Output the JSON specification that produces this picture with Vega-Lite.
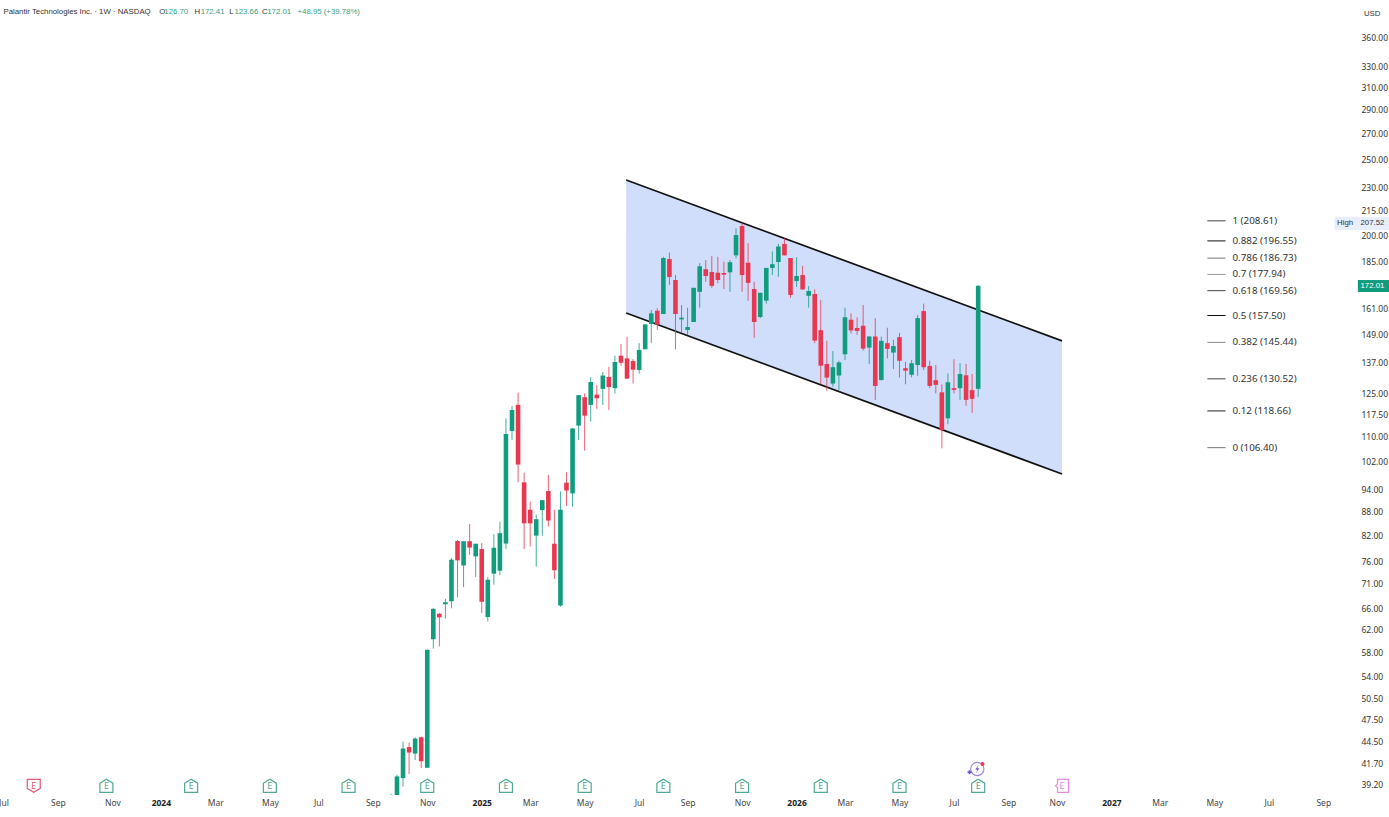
{
  "$schema": "https://vega.github.io/schema/vega-lite/v6.json",
  "width": 1389,
  "height": 795,
  "autosize": "none",
  "padding": {"left": 0, "top": 0, "right": 0, "bottom": 22},
  "background": "white",
  "config": {"view": {"stroke": null}, "font": "Noto Sans"},
  "datasets": {
    "candles": [
      {"date":"2024-09-23","open":36,"high":38.1,"low":35,"close":37},
      {"date":"2024-09-30","open":37,"high":40.3,"low":36.5,"close":40.1},
      {"date":"2024-10-07","open":39.9,"high":44.47,"low":38.9,"close":43.57},
      {"date":"2024-10-14","open":43.75,"high":44.35,"low":40.4,"close":43.05},
      {"date":"2024-10-21","open":42.92,"high":45.05,"low":42.1,"close":44.87},
      {"date":"2024-10-28","open":45.05,"high":45.13,"low":41.1,"close":41.95},
      {"date":"2024-11-04","open":41.15,"high":58.4,"low":41.15,"close":58.4},
      {"date":"2024-11-11","open":60.25,"high":66.1,"low":58.6,"close":65.94},
      {"date":"2024-11-18","open":65,"high":65.1,"low":59,"close":64.3},
      {"date":"2024-11-25","open":66.85,"high":67.95,"low":64.05,"close":67.25},
      {"date":"2024-12-02","open":67.45,"high":76.7,"low":66.05,"close":76.3},
      {"date":"2024-12-09","open":80.65,"high":80.9,"low":68.2,"close":76.15},
      {"date":"2024-12-16","open":75,"high":80.6,"low":70.35,"close":80.6},
      {"date":"2024-12-23","open":80.6,"high":84.8,"low":77.4,"close":79.1},
      {"date":"2024-12-30","open":77.05,"high":80,"low":72.45,"close":80},
      {"date":"2025-01-06","open":78.75,"high":80.15,"low":65.15,"close":67.35},
      {"date":"2025-01-13","open":64.35,"high":72.45,"low":63.55,"close":71.9},
      {"date":"2025-01-20","open":73.2,"high":82.3,"low":70.85,"close":79.05},
      {"date":"2025-01-27","open":73.85,"high":85.4,"low":72.85,"close":82.55},
      {"date":"2025-02-03","open":80.05,"high":116.1,"low":78.75,"close":110.8},
      {"date":"2025-02-10","open":111.8,"high":120.4,"low":108.9,"close":119},
      {"date":"2025-02-17","open":120.8,"high":125.3,"low":96,"close":101.2},
      {"date":"2025-02-24","open":96,"high":98.8,"low":78.75,"close":85},
      {"date":"2025-03-03","open":88.5,"high":90.65,"low":79.35,"close":85},
      {"date":"2025-03-10","open":81.95,"high":87.2,"low":74.75,"close":86.05},
      {"date":"2025-03-17","open":88.4,"high":91.05,"low":81.9,"close":91.05},
      {"date":"2025-03-24","open":93.55,"high":98.15,"low":84.2,"close":85.7},
      {"date":"2025-03-31","open":80,"high":88.5,"low":72.05,"close":73.95},
      {"date":"2025-04-07","open":66.6,"high":93.45,"low":66.35,"close":88.5},
      {"date":"2025-04-14","open":95.9,"high":98.9,"low":89.5,"close":93.7},
      {"date":"2025-04-21","open":92.9,"high":112.65,"low":89.3,"close":112.65},
      {"date":"2025-04-28","open":113.6,"high":124.35,"low":108.9,"close":124.35},
      {"date":"2025-05-05","open":123.6,"high":125,"low":105.5,"close":117},
      {"date":"2025-05-12","open":120.8,"high":131.2,"low":115,"close":129.3},
      {"date":"2025-05-19","open":124.55,"high":128.2,"low":119.4,"close":123.2},
      {"date":"2025-05-26","open":126.7,"high":133.2,"low":120.8,"close":131.8},
      {"date":"2025-06-02","open":131.25,"high":135.3,"low":119,"close":127.4},
      {"date":"2025-06-09","open":126.95,"high":139.8,"low":124.9,"close":137.2},
      {"date":"2025-06-16","open":139.8,"high":144.8,"low":135.7,"close":136.9},
      {"date":"2025-06-23","open":138.7,"high":147.9,"low":130.5,"close":130.6},
      {"date":"2025-06-30","open":137.6,"high":138.4,"low":128.7,"close":134.1},
      {"date":"2025-07-07","open":134,"high":145.1,"low":132.5,"close":142.2},
      {"date":"2025-07-14","open":142.5,"high":153.4,"low":142.4,"close":153.4},
      {"date":"2025-07-21","open":153.6,"high":160.1,"low":145.1,"close":158.5},
      {"date":"2025-07-28","open":159.75,"high":160.9,"low":150.9,"close":153.25},
      {"date":"2025-08-04","open":158.2,"high":187.5,"low":158.2,"close":186.8},
      {"date":"2025-08-11","open":186.25,"high":189.9,"low":172.5,"close":176.6},
      {"date":"2025-08-18","open":175,"high":177.6,"low":142.5,"close":158.2},
      {"date":"2025-08-25","open":155.7,"high":162.5,"low":149.7,"close":156.5},
      {"date":"2025-09-01","open":150.9,"high":161.2,"low":148.7,"close":152.2},
      {"date":"2025-09-08","open":154.5,"high":171,"low":154.5,"close":171},
      {"date":"2025-09-15","open":169,"high":184,"low":161.2,"close":182.3},
      {"date":"2025-09-22","open":180.7,"high":185.7,"low":174.1,"close":177.1},
      {"date":"2025-09-29","open":179.2,"high":187.9,"low":171,"close":172},
      {"date":"2025-10-06","open":178.85,"high":187.5,"low":173.3,"close":175},
      {"date":"2025-10-13","open":178.7,"high":184.8,"low":170.4,"close":177.8},
      {"date":"2025-10-20","open":179.05,"high":185.7,"low":169,"close":184.5},
      {"date":"2025-10-27","open":188.3,"high":204,"low":186.6,"close":200},
      {"date":"2025-11-03","open":205.4,"high":207.52,"low":169,"close":177.6},
      {"date":"2025-11-10","open":184.2,"high":195.2,"low":164.6,"close":173.5},
      {"date":"2025-11-17","open":170.4,"high":174.1,"low":147.4,"close":154.5},
      {"date":"2025-11-24","open":156.8,"high":168.5,"low":156.2,"close":168.5},
      {"date":"2025-12-01","open":164.6,"high":181.4,"low":163.2,"close":181.4},
      {"date":"2025-12-08","open":181.4,"high":190.5,"low":177.6,"close":183.4},
      {"date":"2025-12-15","open":184.6,"high":194.8,"low":176.7,"close":193.3},
      {"date":"2025-12-22","open":194.8,"high":198.1,"low":188.3,"close":188.3},
      {"date":"2025-12-29","open":186.8,"high":186.8,"low":166,"close":167.4},
      {"date":"2026-01-05","open":174.5,"high":187.2,"low":171.5,"close":177.1},
      {"date":"2026-01-12","open":177.6,"high":182.5,"low":169.9,"close":170.2},
      {"date":"2026-01-19","open":167,"high":171.9,"low":161.2,"close":169.4},
      {"date":"2026-01-26","open":167.9,"high":170.2,"low":145.1,"close":146.2},
      {"date":"2026-02-02","open":150.8,"high":164.9,"low":128.4,"close":135.7},
      {"date":"2026-02-09","open":136.4,"high":146.1,"low":126,"close":131},
      {"date":"2026-02-16","open":128.7,"high":141.7,"low":127.5,"close":135.1},
      {"date":"2026-02-23","open":131.8,"high":137.7,"low":126.3,"close":137.05},
      {"date":"2026-03-02","open":140.4,"high":161.2,"low":138,"close":156.7},
      {"date":"2026-03-09","open":155.55,"high":158.5,"low":149.3,"close":150.7},
      {"date":"2026-03-16","open":151.8,"high":156.7,"low":148.7,"close":150.45},
      {"date":"2026-03-23","open":152.8,"high":162.5,"low":141.9,"close":142.75},
      {"date":"2026-03-30","open":143.2,"high":148,"low":136.4,"close":148},
      {"date":"2026-04-06","open":148,"high":156.2,"low":122.6,"close":127.8},
      {"date":"2026-04-13","open":130.1,"high":147.9,"low":129.8,"close":146.1},
      {"date":"2026-04-20","open":145.1,"high":151.9,"low":138.7,"close":142.65},
      {"date":"2026-04-27","open":141.1,"high":146.5,"low":134.4,"close":143.85},
      {"date":"2026-05-04","open":147.7,"high":149.6,"low":131,"close":137.7},
      {"date":"2026-05-11","open":134.7,"high":137.3,"low":128.4,"close":133.7},
      {"date":"2026-05-18","open":132.1,"high":138,"low":131.1,"close":136.7},
      {"date":"2026-05-25","open":136,"high":157.7,"low":131.7,"close":156.3},
      {"date":"2026-06-01","open":159.6,"high":163.2,"low":134,"close":135.1},
      {"date":"2026-06-08","open":135.6,"high":137.7,"low":126.95,"close":127.8},
      {"date":"2026-06-15","open":130,"high":136,"low":125,"close":128.2},
      {"date":"2026-06-22","open":125.4,"high":128.4,"low":106.2,"close":112.1},
      {"date":"2026-06-29","open":116.1,"high":132.6,"low":114.1,"close":129.2},
      {"date":"2026-07-06","open":126.95,"high":138.3,"low":125,"close":126.3},
      {"date":"2026-07-13","open":126.95,"high":136.7,"low":122.6,"close":132.4},
      {"date":"2026-07-20","open":131.9,"high":136.4,"low":120.5,"close":122.6},
      {"date":"2026-07-27","open":126.2,"high":132.4,"low":118,"close":123},
      {"date":"2026-08-03","open":126.7,"high":172.41,"low":123.66,"close":172.01}
    ],
    "channel": [
      {"date":"2025-06-22","upper":235.5,"lower":158.7},
      {"date":"2026-11-08","upper":146.1,"lower":98.4}
    ],
    "fib": [
      {"level":"1","start":"2027-04-25","date":"2027-05-16","text_date":"2027-05-24","price":208.61,"label":"1 (208.61)"},
      {"level":"0.882","start":"2027-04-25","date":"2027-05-16","text_date":"2027-05-24","price":196.55,"label":"0.882 (196.55)"},
      {"level":"0.786","start":"2027-04-25","date":"2027-05-16","text_date":"2027-05-24","price":186.73,"label":"0.786 (186.73)"},
      {"level":"0.7","start":"2027-04-25","date":"2027-05-16","text_date":"2027-05-24","price":177.94,"label":"0.7 (177.94)"},
      {"level":"0.618","start":"2027-04-25","date":"2027-05-16","text_date":"2027-05-24","price":169.56,"label":"0.618 (169.56)"},
      {"level":"0.5","start":"2027-04-25","date":"2027-05-16","text_date":"2027-05-24","price":157.5,"label":"0.5 (157.50)"},
      {"level":"0.382","start":"2027-04-25","date":"2027-05-16","text_date":"2027-05-24","price":145.44,"label":"0.382 (145.44)"},
      {"level":"0.236","start":"2027-04-25","date":"2027-05-16","text_date":"2027-05-24","price":130.52,"label":"0.236 (130.52)"},
      {"level":"0.12","start":"2027-04-25","date":"2027-05-16","text_date":"2027-05-24","price":118.66,"label":"0.12 (118.66)"},
      {"level":"0","start":"2027-04-25","date":"2027-05-16","text_date":"2027-05-24","price":106.4,"label":"0 (106.40)"}
    ],
    "earnings": [
      {"date":"2023-08-07","price":39,"kind":"miss"},
      {"date":"2023-10-30","price":39,"kind":"beat"},
      {"date":"2024-02-05","price":39,"kind":"beat"},
      {"date":"2024-05-06","price":39,"kind":"beat"},
      {"date":"2024-08-05","price":39,"kind":"beat"},
      {"date":"2024-11-04","price":39,"kind":"beat"},
      {"date":"2025-02-03","price":39,"kind":"beat"},
      {"date":"2025-05-05","price":39,"kind":"beat"},
      {"date":"2025-08-04","price":39,"kind":"beat"},
      {"date":"2025-11-03","price":39,"kind":"beat"},
      {"date":"2026-02-02","price":39,"kind":"beat"},
      {"date":"2026-05-04","price":39,"kind":"beat"},
      {"date":"2026-08-03","price":39,"kind":"beat"},
      {"date":"2026-11-08","price":39,"kind":"next"}
    ],
    "header": [
      {"date":"2023-07-03","price":387.7,"label":"Palantir Technologies Inc. · 1W · NASDAQ","tone":"dark"},
      {"date":"2023-12-30","price":387.7,"label":"O","tone":"dark"},
      {"date":"2024-01-05","price":387.7,"label":"126.70","tone":"up"},
      {"date":"2024-02-09","price":387.7,"label":"H","tone":"dark"},
      {"date":"2024-02-16","price":387.7,"label":"172.41","tone":"up"},
      {"date":"2024-03-20","price":387.7,"label":"L","tone":"dark"},
      {"date":"2024-03-26","price":387.7,"label":"123.66","tone":"up"},
      {"date":"2024-04-27","price":387.7,"label":"C","tone":"dark"},
      {"date":"2024-05-03","price":387.7,"label":"172.01","tone":"up"},
      {"date":"2024-06-07","price":387.7,"label":"+48.95 (+39.78%)","tone":"up"},
      {"date":"2027-10-23","price":385.4,"label":"USD","tone":"dark"},
      {"date":"2027-09-22","price":207.52,"label":"High","tone":"dark"},
      {"date":"2027-10-19","price":207.52,"label":"207.52","tone":"dark"},
      {"date":"2027-10-19","price":172.01,"label":"172.01","tone":"white"}
    ],
    "tags": [
      {"date":"2027-09-19","end":"2027-11-21","top":211.2,"bottom":203,"tag":"high"},
      {"date":"2027-10-16","end":"2027-11-21","top":175,"bottom":168.9,"tag":"last"}
    ]
  },
  "encoding": {
    "x": {
      "field": "date",
      "type": "temporal",
      "title": null,
      "scale": {"type": "utc", "domain": ["2023-06-29", "2027-11-21"], "nice": false, "padding": 0},
      "axis": {
        "values": ["2023-07-03","2023-09-04","2023-11-06","2024-01-01","2024-03-04","2024-05-06","2024-07-01","2024-09-02","2024-11-04","2025-01-06","2025-03-03","2025-05-05","2025-07-07","2025-09-01","2025-11-03","2026-01-05","2026-03-02","2026-05-04","2026-07-06","2026-09-07","2026-11-02","2027-01-04","2027-03-01","2027-05-03","2027-07-05","2027-09-06"],
        "labelExpr": "utcmonth(datum.value) == 0 ? utcFormat(datum.value, '%Y') : utcFormat(datum.value, '%b')",
        "labelFontWeight": {"condition": {"test": "utcmonth(datum.value) == 0", "value": "bold"}, "value": "normal"},
        "labelColor": {"condition": {"test": "utcmonth(datum.value) == 0", "value": "#222222"}, "value": "#444444"},
        "labelFontSize": 8.5,
        "labelPadding": 3,
        "labelBound": false,
        "labelFlush": false,
        "labelOverlap": false,
        "grid": false,
        "ticks": false,
        "domain": false
      }
    },
    "y": {
      "field": "price",
      "type": "quantitative",
      "title": null,
      "scale": {"type": "log", "domain": [37.95, 401.8], "nice": false},
      "axis": {
        "orient": "right",
        "values": [360,330,310,290,270,250,230,215,200,185,161,149,137,125,117.5,110,102,94,88,82,76,71,66,62,58,54,50.5,47.5,44.5,41.7,39.2],
        "format": ".2f",
        "labelAlign": "left",
        "labelPadding": -28,
        "labelFontSize": 8.5,
        "labelColor": "#333333",
        "labelOverlap": false,
        "labelBound": false,
        "grid": false,
        "ticks": false,
        "domain": false
      }
    }
  },
  "resolve": {"scale": {"color": "independent", "shape": "independent"}},
  "layer": [
    {
      "data": {"name": "channel"},
      "mark": {"type": "area", "color": "#D0DEFB", "opacity": 1},
      "encoding": {
        "y": {"field": "upper", "type": "quantitative", "title": null, "scale": {"type": "log", "domain": [37.95, 401.8], "nice": false}},
        "y2": {"field": "lower"}
      }
    },
    {
      "data": {"name": "channel"},
      "mark": {"type": "line", "color": "#111111", "strokeWidth": 1.7},
      "encoding": {
        "y": {"field": "upper", "type": "quantitative", "title": null, "scale": {"type": "log", "domain": [37.95, 401.8], "nice": false}}
      }
    },
    {
      "data": {"name": "channel"},
      "mark": {"type": "line", "color": "#111111", "strokeWidth": 1.7},
      "encoding": {
        "y": {"field": "lower", "type": "quantitative", "title": null, "scale": {"type": "log", "domain": [37.95, 401.8], "nice": false}}
      }
    },
    {
      "data": {"name": "candles"},
      "mark": {"type": "rule", "strokeWidth": 1, "opacity": 0.8, "clip": true},
      "encoding": {
        "y": {"field": "low", "type": "quantitative", "title": null, "scale": {"type": "log", "domain": [37.95, 401.8], "nice": false}},
        "y2": {"field": "high"},
        "color": {"condition": {"test": "datum.close >= datum.open", "value": "#119C7E"}, "value": "#E8384F"}
      }
    },
    {
      "data": {"name": "candles"},
      "mark": {"type": "bar", "size": 4.6, "clip": true},
      "encoding": {
        "y": {"field": "open", "type": "quantitative", "title": null, "scale": {"type": "log", "domain": [37.95, 401.8], "nice": false}},
        "y2": {"field": "close"},
        "color": {"condition": {"test": "datum.close >= datum.open", "value": "#119C7E"}, "value": "#E8384F"}
      }
    },
    {
      "data": {"name": "fib"},
      "mark": {"type": "rule", "strokeWidth": 1},
      "encoding": {
        "x": {"field": "start", "type": "temporal", "title": null, "scale": {"type": "utc", "domain": ["2023-06-29", "2027-11-21"], "nice": false, "padding": 0}},
        "x2": {"field": "date"},
        "color": {
          "field": "level",
          "type": "nominal",
          "legend": null,
          "scale": {
            "domain": ["1","0.882","0.786","0.7","0.618","0.5","0.382","0.236","0.12","0"],
            "range": ["#444444","#111111","#777777","#999999","#444444","#111111","#888888","#444444","#222222","#777777"]
          }
        }
      }
    },
    {
      "data": {"name": "fib"},
      "mark": {"type": "text", "align": "left", "baseline": "middle", "fontSize": 9.8, "color": "#333333"},
      "encoding": {
        "x": {"field": "text_date", "type": "temporal", "title": null, "scale": {"type": "utc", "domain": ["2023-06-29", "2027-11-21"], "nice": false, "padding": 0}},
        "text": {"field": "label"}
      }
    },
    {
      "data": {"name": "earnings"},
      "mark": {"type": "point", "filled": false, "size": 169, "strokeWidth": 1.2, "fill": "white", "fillOpacity": 1},
      "encoding": {
        "shape": {
          "field": "kind",
          "legend": null,
          "scale": {
            "domain": ["beat", "miss", "next"],
            "range": ["M-1,-0.4 L0,-1 L1,-0.4 L1,1 L-1,1 Z", "M-1,-1 L1,-1 L1,0.4 L0,1 L-1,0.4 Z", "M-0.7,-1 L1,-1 L1,1 L-0.7,1 L-0.7,0.3 L-1,0 L-0.7,-0.3 Z"]
          }
        },
        "color": {
          "field": "kind",
          "legend": null,
          "scale": {"domain": ["beat", "miss", "next"], "range": ["#4FA994", "#E2566F", "#E58BE6"]}
        }
      }
    },
    {
      "data": {"name": "earnings"},
      "mark": {"type": "text", "text": "E", "fontSize": 9, "baseline": "middle"},
      "encoding": {
        "color": {
          "field": "kind",
          "legend": null,
          "scale": {"domain": ["beat", "miss", "next"], "range": ["#4FA994", "#E2566F", "#E58BE6"]}
        }
      }
    },
    {
      "data": {"values": [{"date": "2026-08-02", "price": 40.99}]},
      "mark": {"type": "point", "filled": false, "size": 177, "color": "#7E57C9", "strokeWidth": 1.2, "shape": "circle"}
    },
    {
      "data": {"values": [{"date": "2026-08-02", "price": 40.99}]},
      "mark": {"type": "point", "filled": true, "size": 70, "color": "#7E57C9", "opacity": 1, "shape": "M0.3,-1 L-0.5,0.15 L0,0.15 L-0.3,1 L0.5,-0.2 L0,-0.2 Z"}
    },
    {
      "data": {"values": [{"date": "2026-07-24", "price": 40.6}]},
      "mark": {"type": "point", "filled": true, "size": 16, "color": "#5B4FD6", "opacity": 1, "shape": "cross"}
    },
    {
      "data": {"values": [{"date": "2026-08-08", "price": 41.6}]},
      "mark": {"type": "point", "filled": true, "size": 16, "color": "#E8384F", "opacity": 1, "shape": "circle"}
    },
    {
      "data": {"name": "tags"},
      "mark": {"type": "rect"},
      "encoding": {
        "x2": {"field": "end"},
        "y": {"field": "top", "type": "quantitative", "title": null, "scale": {"type": "log", "domain": [37.95, 401.8], "nice": false}},
        "y2": {"field": "bottom"},
        "color": {
          "field": "tag",
          "legend": null,
          "scale": {"domain": ["high", "last"], "range": ["#E8EEFB", "#119C7E"]}
        }
      }
    },
    {
      "data": {"name": "header"},
      "mark": {"type": "text", "align": "left", "baseline": "middle", "fontSize": 7.8, "font": "Liberation Sans"},
      "encoding": {
        "text": {"field": "label"},
        "color": {
          "field": "tone",
          "legend": null,
          "scale": {"domain": ["dark", "up", "white"], "range": ["#333333", "#2E9F86", "#FFFFFF"]}
        }
      }
    }
  ]
}
